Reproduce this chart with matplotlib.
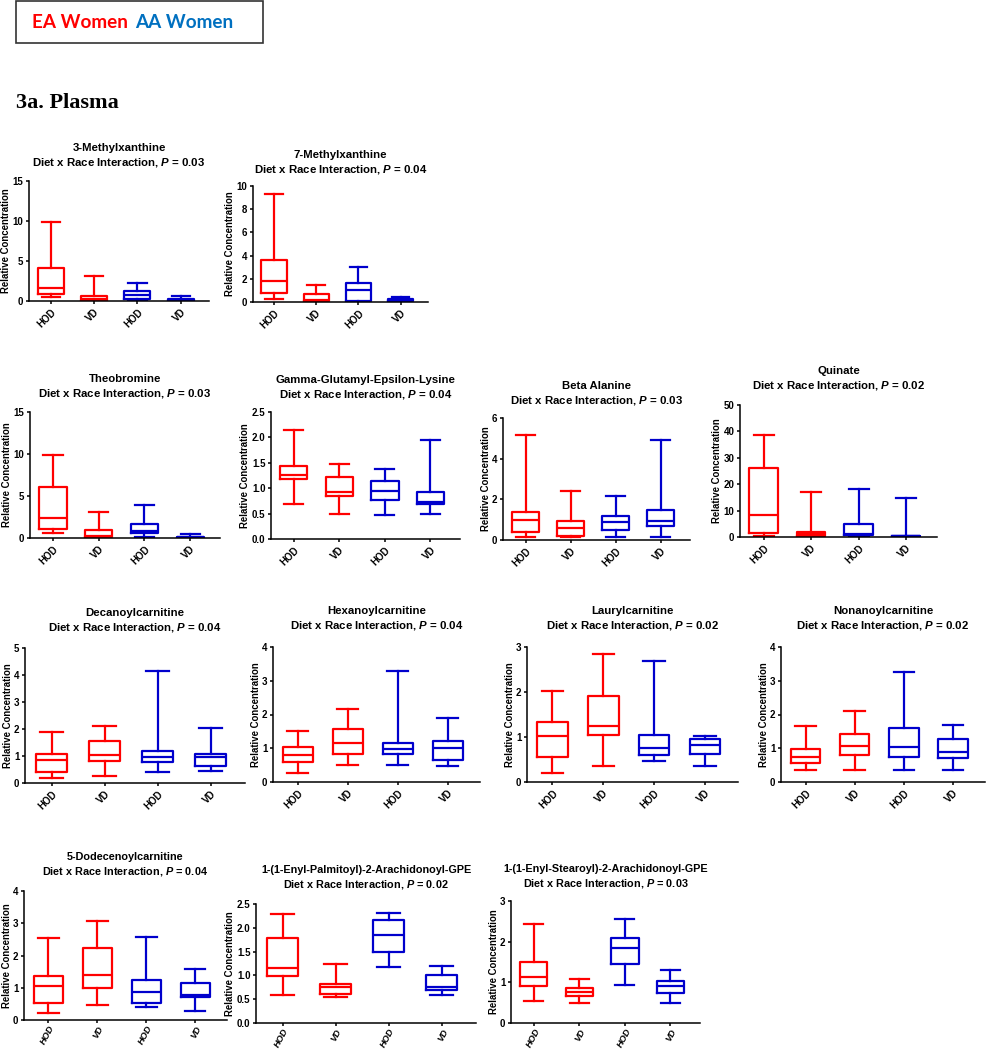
import numpy as np
import matplotlib
matplotlib.use("Agg")
import matplotlib.pyplot as plt
from matplotlib.patches import Rectangle
from matplotlib.ticker import MultipleLocator, FormatStrFormatter

plt.rcParams['font.family'] = ['Liberation Sans', 'DejaVu Sans']
plt.rcParams['font.weight'] = 'bold'
plt.rcParams['mathtext.fontset'] = 'custom'
plt.rcParams['mathtext.it'] = 'Liberation Sans:italic:bold'
plt.rcParams['mathtext.rm'] = 'Liberation Sans:bold'

# --- data: one entry per panel, boxes ordered EA HOD, EA VD, AA HOD, AA VD ---
metabolites = ["3-Methylxanthine", "7-Methylxanthine", "Theobromine",
               "Gamma-Glutamyl-Epsilon-Lysine", "Beta Alanine", "Quinate",
               "Decanoylcarnitine", "Hexanoylcarnitine", "Laurylcarnitine",
               "Nonanoylcarnitine", "5-Dodecenoylcarnitine",
               "1-(1-Enyl-Palmitoyl)-2-Arachidonoyl-GPE",
               "1-(1-Enyl-Stearoyl)-2-Arachidonoyl-GPE"]
p_values = ["0.03", "0.04", "0.03", "0.04", "0.03", "0.02",
            "0.04", "0.04", "0.02", "0.02", "0.04", "0.02", "0.03"]
groups = ["HOD", "VD", "HOD", "VD"]
y_max = [15, 10, 15, 2.5, 6, 50, 5, 4, 3, 4, 4, 2.5, 3]
y_step = [5, 2, 5, 0.5, 2, 10, 1, 1, 1, 1, 1, 0.5, 1]

whis_lo = [[0.5, 0.02, 0.05, 0.02], [0.29, 0.02, 0.02, 0.03],
           [0.6, 0.05, 0.1, 0.02], [0.69, 0.49, 0.47, 0.5],
           [0.15, 0.15, 0.15, 0.15], [0.2, 0.1, 0.2, 0.1],
           [0.19, 0.27, 0.41, 0.45], [0.27, 0.5, 0.49, 0.46],
           [0.21, 0.35, 0.46, 0.36], [0.35, 0.35, 0.35, 0.35],
           [0.21, 0.47, 0.39, 0.28], [0.59, 0.54, 1.17, 0.58],
           [0.55, 0.5, 0.93, 0.5]]
q1 = [[0.85, 0.05, 0.3, 0.05], [0.78, 0.08, 0.05, 0.08],
      [1.07, 0.1, 0.55, 0.05], [1.18, 0.84, 0.77, 0.68],
      [0.38, 0.2, 0.5, 0.7], [1.5, 0.5, 0.6, 0.2],
      [0.4, 0.82, 0.77, 0.63], [0.59, 0.82, 0.82, 0.66],
      [0.55, 1.04, 0.59, 0.62], [0.56, 0.79, 0.74, 0.71],
      [0.54, 0.98, 0.54, 0.7], [0.99, 0.61, 1.49, 0.69],
      [0.91, 0.66, 1.45, 0.74]]
median = [[1.6, 0.2, 0.8, 0.12], [1.81, 0.2, 1.0, 0.15],
          [2.38, 0.2, 0.8, 0.1], [1.26, 0.93, 0.94, 0.72],
          [1.0, 0.6, 0.87, 0.92], [8.5, 1.1, 1.1, 0.3],
          [0.84, 1.05, 0.97, 0.97], [0.79, 1.15, 0.97, 1.0],
          [1.02, 1.25, 0.75, 0.82], [0.73, 1.08, 1.03, 0.9],
          [1.05, 1.39, 0.87, 0.79], [1.15, 0.75, 1.85, 0.75],
          [1.13, 0.76, 1.85, 0.92]]
q3 = [[4.1, 0.65, 1.2, 0.2], [3.6, 0.66, 1.67, 0.25],
      [6.03, 0.91, 1.63, 0.15], [1.43, 1.22, 1.14, 0.92],
      [1.37, 0.95, 1.2, 1.46], [26.1, 1.8, 5.1, 0.4],
      [1.07, 1.54, 1.18, 1.08], [1.04, 1.56, 1.15, 1.21],
      [1.34, 1.92, 1.05, 0.96], [0.99, 1.43, 1.6, 1.26],
      [1.35, 2.24, 1.24, 1.16], [1.79, 0.82, 2.17, 1.01],
      [1.5, 0.86, 2.08, 1.04]]
whis_hi = [[9.9, 3.15, 2.3, 0.6], [9.28, 1.5, 3.0, 0.43],
           [9.84, 3.1, 3.9, 0.5], [2.14, 1.47, 1.375, 1.95],
           [5.18, 2.42, 2.15, 4.92], [38.6, 17.1, 18.2, 14.7],
           [1.9, 2.12, 4.16, 2.03], [1.5, 2.16, 3.28, 1.9],
           [2.03, 2.84, 2.7, 1.03], [1.65, 2.09, 3.25, 1.69],
           [2.54, 3.06, 2.56, 1.58], [2.3, 1.24, 2.31, 1.19],
           [2.43, 1.09, 2.55, 1.3]]

# --- layout in pixels (left, top, right, bottom) and title line centres ---
W, H = 989, 1050
axes_px = [(29, 181, 209, 301), (253, 186, 428, 302),
           (30, 412, 220, 538), (271, 412, 460, 539), (503, 418, 690, 540),
           (740, 405, 937, 537),
           (25, 648, 245, 783), (273, 647, 480, 782), (527, 647, 738, 782),
           (781, 647, 985, 782),
           (24, 891, 227, 1020), (256, 904, 476, 1023), (511, 901, 700, 1023)]
title_y = [148, 155, 379, 380, 386, 371, 613, 611, 611, 611, 857, 870, 869]

RED, BLUE = '#FF0000', '#0000CC'
box_colors = [RED, RED, BLUE, BLUE]

fig = plt.figure(figsize=(W / 100, H / 100), dpi=100)

# legend box and section heading
fig.patches.append(Rectangle((16 / W, 1 - 43 / H), 247 / W, 42 / H,
                             transform=fig.transFigure, fill=False,
                             edgecolor='#333333', linewidth=1.2))
fig.text(32 / W, 1 - 23 / H, "EA Women", color='#FF0000', fontsize=13.6,
         family=['Lato', 'DejaVu Sans'], weight='bold', va='center')
fig.text(135 / W, 1 - 23 / H, "AA Women", color='#0070C0', fontsize=13.6,
         family=['Lato', 'DejaVu Sans'], weight='bold', va='center')
fig.text(16 / W, 1 - 103 / H, "3a. Plasma", fontsize=16,
         family=['Liberation Serif', 'DejaVu Serif'], weight='bold', va='center')

for i, name in enumerate(metabolites):
    l, t, r, b = axes_px[i]
    ax = fig.add_axes([l / W, 1 - b / H, (r - l) / W, (b - t) / H])
    last_row = i >= 10

    stats = []
    for j in range(4):
        stats.append({'whislo': whis_lo[i][j], 'q1': q1[i][j], 'med': median[i][j],
                      'q3': q3[i][j], 'whishi': whis_hi[i][j], 'fliers': []})
    art = ax.bxp(stats, positions=[1, 2, 3, 4], widths=0.6, capwidths=0.42,
                 showfliers=False, patch_artist=False)
    for j, c in enumerate(box_colors):
        art['boxes'][j].set(color=c, linewidth=1.6)
        art['medians'][j].set(color=c, linewidth=1.6)
        for k in (2 * j, 2 * j + 1):
            art['whiskers'][k].set(color=c, linewidth=1.6)
            art['caps'][k].set(color=c, linewidth=1.6)

    ax.set_xlim(0.5, 4.65)
    ax.set_ylim(0, y_max[i])
    ax.yaxis.set_major_locator(MultipleLocator(y_step[i]))
    if y_step[i] < 1:
        ax.yaxis.set_major_formatter(FormatStrFormatter('%.1f'))
    for s in ('top', 'right'):
        ax.spines[s].set_visible(False)
    for s in ('left', 'bottom'):
        ax.spines[s].set_linewidth(1.1)
    ax.tick_params(axis='y', width=1.1, length=2.5, pad=1.5, direction='out')
    ax.tick_params(axis='x', width=1.1, length=2.5, direction='out',
                   pad=0.5 if last_row else 2)
    ax.set_xticks([1, 2, 3, 4])
    ax.set_xticklabels(groups, rotation=62 if last_row else 45, ha='right',
                       rotation_mode='anchor', fontsize=6.6 if last_row else 7,
                       weight='bold', style='italic' if last_row else 'normal')
    for lab in ax.get_yticklabels():
        lab.set_fontsize(7)
        lab.set_weight('bold')
    ax.set_ylabel("Relative Concentration", fontsize=6.9, weight='bold',
                  labelpad=1)

    cx = (l + r) / 2 / W
    fs = 7.8 if last_row else 8.2
    fig.text(cx, 1 - title_y[i] / H, name, ha='center', va='center',
             fontsize=fs, weight='bold')
    fig.text(cx, 1 - (title_y[i] + 14.5) / H,
             "Diet x Race Interaction, $P$ = " + p_values[i],
             ha='center', va='center', fontsize=fs, weight='bold')

fig.savefig("out.png", dpi=100)
